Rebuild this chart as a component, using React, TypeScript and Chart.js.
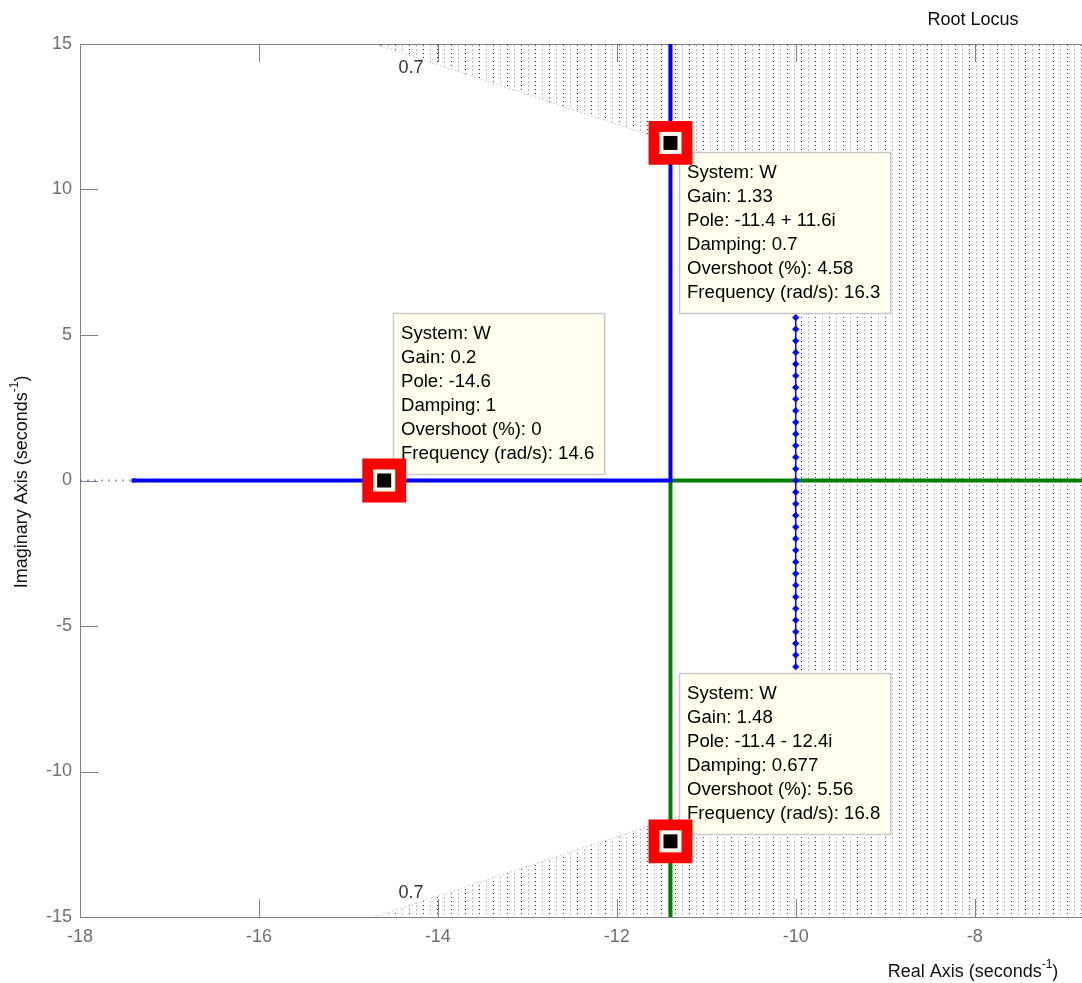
import React, { useEffect, useRef } from 'react';
import { Chart, registerables } from 'chart.js';

Chart.register(...registerables);

// Axis ranges (seconds^-1)
const REAL_MIN = -18;
const REAL_MAX = -6.8;
const IMAG_MIN = -15;
const IMAG_MAX = 15;
const REAL_STEP = 2;
const IMAG_STEP = 5;

// Locus branch 1 (blue): along the real axis, then breaking away upward
const blueRe = [-17.4, -11.4, -11.4];
const blueIm = [0, 0, 15];
// Locus branch 2 (green): from below, then along the real axis to the right
const greenRe = [-11.4, -11.4, -6.8];
const greenIm = [-15, 0, 0];
// Dotted continuation of branch 1 towards the left edge
const tailRe = [-18, -17.4];
const tailIm = [0, 0];
// Marker column at Re = -10
const markerColRe = -10;
const markerColIm = [
  5.6, 5.2, 4.8, 4.4, 4.0, 3.6, 3.2, 2.8, 2.4, 2.0, 1.6, 1.2, 0.8, 0.4, 0,
  -0.4, -0.8, -1.2, -1.6, -2.0, -2.4, -2.8, -3.2, -3.6, -4.0, -4.4, -4.8,
  -5.2, -5.6, -6.0, -6.4,
];

// Data cursors
const cursorRe = [-14.6, -11.4, -11.4];
const cursorIm = [0, 11.6, -12.4];
const cursorSystem = ['W', 'W', 'W'];
const cursorGain = ['0.2', '1.33', '1.48'];
const cursorPole = ['-14.6', '-11.4 + 11.6i', '-11.4 - 12.4i'];
const cursorDamping = ['1', '0.7', '0.677'];
const cursorOvershoot = ['0', '4.58', '5.56'];
const cursorFreq = ['14.6', '16.3', '16.8'];
const cursorTipBelow = [false, true, false];

// Design requirements: minimum damping and maximum real part
const DAMPING_LIMIT = 0.7;
const REAL_LIMIT = -10;
const dampingLabel = '0.7';
const dampingLabelRe = -14.3;
const dampingLabelIm = [14.17, -14.17];

const FONT = "'Liberation Sans', Arial, Helvetica, sans-serif";
const AXIS_GRAY = '#808080';
const TICK_TEXT = '#6f6f6f';

// Stipple used for the region that violates the design requirements
function dotPattern(): CanvasPattern | string {
  const c = document.createElement('canvas');
  c.width = 14;
  c.height = 8;
  const g = c.getContext('2d');
  if (!g) return '#eeeeee';
  g.fillStyle = '#ffffff';
  g.fillRect(0, 0, 14, 8);
  g.fillStyle = '#3c3c3c';
  g.fillRect(3, 1, 1, 1);
  g.fillRect(3, 5, 1, 1);
  g.fillStyle = '#bdbdbd';
  g.fillRect(10, 1, 1, 2);
  g.fillRect(10, 5, 1, 2);
  return g.createPattern(c, 'repeat') || '#eeeeee';
}

function pts(xs: number[], ys: number[]) {
  return xs.map((x, i) => ({ x, y: ys[i] }));
}

function drawSupLabel(ctx: CanvasRenderingContext2D, main: string, sup: string, tail: string, cx: number, cy: number) {
  ctx.font = `18px ${FONT}`;
  const w1 = ctx.measureText(main).width;
  const w3 = ctx.measureText(tail).width;
  ctx.font = `12px ${FONT}`;
  const w2 = ctx.measureText(sup).width;
  let x = cx - (w1 + w2 + w3) / 2;
  ctx.textAlign = 'left';
  ctx.textBaseline = 'middle';
  ctx.font = `18px ${FONT}`;
  ctx.fillText(main, x, cy);
  x += w1;
  ctx.font = `12px ${FONT}`;
  ctx.fillText(sup, x, cy - 7);
  x += w2;
  ctx.font = `18px ${FONT}`;
  ctx.fillText(tail, x, cy);
}

const decorPlugin = {
  id: 'rootLocusDecor',
  afterDatasetDraw(chart: any, args: any) {
    if (args.index !== 0) return;
    const { ctx, chartArea: a, scales } = chart;
    const xs = scales.x;
    const ys = scales.y;
    ctx.save();
    // frame
    ctx.strokeStyle = AXIS_GRAY;
    ctx.lineWidth = 1;
    ctx.strokeRect(a.left + 0.5, a.top + 0.5, a.right - a.left, a.bottom - a.top);
    // inward tick marks (top, bottom and left edges)
    const TL = 18;
    ctx.beginPath();
    for (let v = REAL_MIN; v <= REAL_MAX; v += REAL_STEP) {
      const px = Math.round(xs.getPixelForValue(v)) + 0.5;
      ctx.moveTo(px, a.bottom);
      ctx.lineTo(px, a.bottom - TL);
      ctx.moveTo(px, a.top);
      ctx.lineTo(px, a.top + TL);
    }
    for (let v = IMAG_MIN; v <= IMAG_MAX; v += IMAG_STEP) {
      const py = Math.round(ys.getPixelForValue(v)) + 0.5;
      ctx.moveTo(a.left, py);
      ctx.lineTo(a.left + TL, py);
    }
    ctx.stroke();

    // data tips
    ctx.font = `18.6px ${FONT}`;
    for (let i = 0; i < cursorRe.length; i++) {
      const lines = [
        `System: ${cursorSystem[i]}`,
        `Gain: ${cursorGain[i]}`,
        `Pole: ${cursorPole[i]}`,
        `Damping: ${cursorDamping[i]}`,
        `Overshoot (%): ${cursorOvershoot[i]}`,
        `Frequency (rad/s): ${cursorFreq[i]}`,
      ];
      const w = Math.max(...lines.map((l) => ctx.measureText(l).width)) + 18;
      const h = 161;
      const mx = xs.getPixelForValue(cursorRe[i]);
      const my = ys.getPixelForValue(cursorIm[i]);
      const left = Math.round(mx + 9);
      const top = cursorTipBelow[i] ? Math.round(my + 9) : Math.round(my - 7 - h);
      ctx.fillStyle = '#ffffee';
      ctx.fillRect(left, top, w, h);
      ctx.strokeStyle = '#c8c8c8';
      ctx.lineWidth = 1.5;
      ctx.strokeRect(left + 0.5, top + 0.5, w, h);
      ctx.fillStyle = '#000000';
      ctx.textAlign = 'left';
      ctx.textBaseline = 'middle';
      lines.forEach((l, k) => ctx.fillText(l, left + 8, top + 21 + k * 24));
    }
    ctx.restore();
  },
  afterDraw(chart: any) {
    const { ctx, scales } = chart;
    ctx.save();
    ctx.fillStyle = '#111111';
    ctx.font = `18px ${FONT}`;
    ctx.textAlign = 'center';
    ctx.textBaseline = 'middle';
    ctx.fillText('Root Locus', 973, 20);
    // damping constraint labels
    ctx.fillStyle = '#333333';
    dampingLabelIm.forEach((im) => {
      ctx.fillText(dampingLabel, scales.x.getPixelForValue(dampingLabelRe), scales.y.getPixelForValue(im));
    });
    // axis titles
    ctx.fillStyle = '#111111';
    drawSupLabel(ctx, 'Real Axis (seconds', '-1', ')', 973, 972);
    ctx.translate(22, 482);
    ctx.rotate(-Math.PI / 2);
    drawSupLabel(ctx, 'Imaginary Axis (seconds', '-1', ')', 0, 0);
    ctx.restore();
  },
};

export default function App() {
  const ref = useRef<HTMLCanvasElement>(null);

  useEffect(() => {
    const canvas = ref.current;
    if (!canvas) return;

    const slope = Math.sqrt(1 - DAMPING_LIMIT * DAMPING_LIMIT) / DAMPING_LIMIT;
    const region = [
      { x: IMAG_MIN / slope, y: IMAG_MAX },
      { x: REAL_LIMIT, y: -REAL_LIMIT * slope },
      { x: REAL_LIMIT, y: REAL_LIMIT * slope },
      { x: IMAG_MIN / slope, y: IMAG_MIN },
      { x: REAL_MAX + 1, y: IMAG_MIN - 1 },
      { x: REAL_MAX + 1, y: IMAG_MAX + 1 },
      { x: IMAG_MIN / slope - 0.1, y: IMAG_MAX + 0.1 },
    ];

    const cursors = pts(cursorRe, cursorIm);

    const chart = new Chart(canvas, {
      type: 'scatter',
      data: {
        datasets: [
          {
            label: 'region',
            data: region,
            showLine: true,
            fill: 'shape',
            backgroundColor: dotPattern(),
            borderColor: '#c8c8c8',
            borderWidth: 1,
            borderDash: [2, 2],
            pointRadius: 0,
            tension: 0,
            order: 10,
          } as any,
          {
            label: 'tail',
            data: pts(tailRe, tailIm),
            showLine: true,
            borderColor: 'rgba(70,70,200,0.55)',
            borderWidth: 2,
            borderDash: [2, 5],
            pointRadius: 0,
            order: 6,
          },
          {
            label: 'column',
            data: markerColIm.map((y) => ({ x: markerColRe, y })),
            showLine: true,
            borderColor: '#0000ff',
            borderWidth: 1.5,
            pointStyle: 'rectRot',
            pointRadius: 3.6,
            pointBackgroundColor: '#0000ff',
            pointBorderColor: '#0000ff',
            pointBorderWidth: 0,
            order: 5,
          },
          {
            label: 'branch 2',
            data: pts(greenRe, greenIm),
            showLine: true,
            borderColor: '#008000',
            borderWidth: 4,
            pointRadius: 0,
            order: 5,
          },
          {
            label: 'branch 1',
            data: pts(blueRe, blueIm),
            showLine: true,
            borderColor: '#0000ff',
            borderWidth: 4,
            pointRadius: [3, 0, 0],
            pointStyle: 'rect',
            pointBackgroundColor: '#0000ff',
            pointBorderWidth: 0,
            order: 4,
          } as any,
          {
            label: 'cursor outer',
            data: cursors,
            pointStyle: 'rect',
            pointRadius: 31,
            backgroundColor: '#ff0000',
            borderWidth: 0,
            order: 3,
          },
          {
            label: 'cursor ring',
            data: cursors,
            pointStyle: 'rect',
            pointRadius: 15.6,
            backgroundColor: '#ffffee',
            borderWidth: 0,
            order: 2,
          },
          {
            label: 'cursor core',
            data: cursors,
            pointStyle: 'rect',
            pointRadius: 9.9,
            backgroundColor: '#000000',
            borderWidth: 0,
            order: 1,
          },
        ],
      },
      options: {
        responsive: false,
        devicePixelRatio: 1,
        animation: false,
        events: [],
        layout: { autoPadding: false, padding: { top: 44, left: 0, right: 0, bottom: 0 } },
        plugins: {
          legend: { display: false },
          tooltip: { enabled: false },
          title: { display: false },
        },
        scales: {
          x: {
            type: 'linear',
            position: 'bottom',
            min: REAL_MIN,
            max: REAL_MAX,
            grid: { display: false, drawTicks: false, tickLength: 0 },
            border: { display: false },
            ticks: {
              stepSize: REAL_STEP,
              includeBounds: false,
              autoSkip: false,
              maxRotation: 0,
              padding: 9,
              color: TICK_TEXT,
              font: { family: FONT, size: 18 },
            },
            afterFit: (s: any) => {
              s.height = 66;
              s.paddingLeft = 0;
              s.paddingRight = 0;
            },
          },
          y: {
            type: 'linear',
            position: 'left',
            min: IMAG_MIN,
            max: IMAG_MAX,
            grid: { display: false, drawTicks: false, tickLength: 0 },
            border: { display: false },
            ticks: {
              stepSize: IMAG_STEP,
              autoSkip: false,
              padding: 8,
              color: TICK_TEXT,
              font: { family: FONT, size: 18 },
            },
            afterFit: (s: any) => {
              s.width = 80;
              s.paddingTop = 0;
              s.paddingBottom = 0;
            },
          },
        },
      } as any,
      plugins: [decorPlugin],
    });

    return () => chart.destroy();
  }, []);

  return (
    <div
      style={{
        position: 'fixed',
        left: 0,
        top: 0,
        width: 1082,
        height: 983,
        overflow: 'hidden',
        background: '#ffffff',
      }}
    >
      <canvas ref={ref} width={1082} height={983} style={{ display: 'block', width: 1082, height: 983 }} />
    </div>
  );
}
